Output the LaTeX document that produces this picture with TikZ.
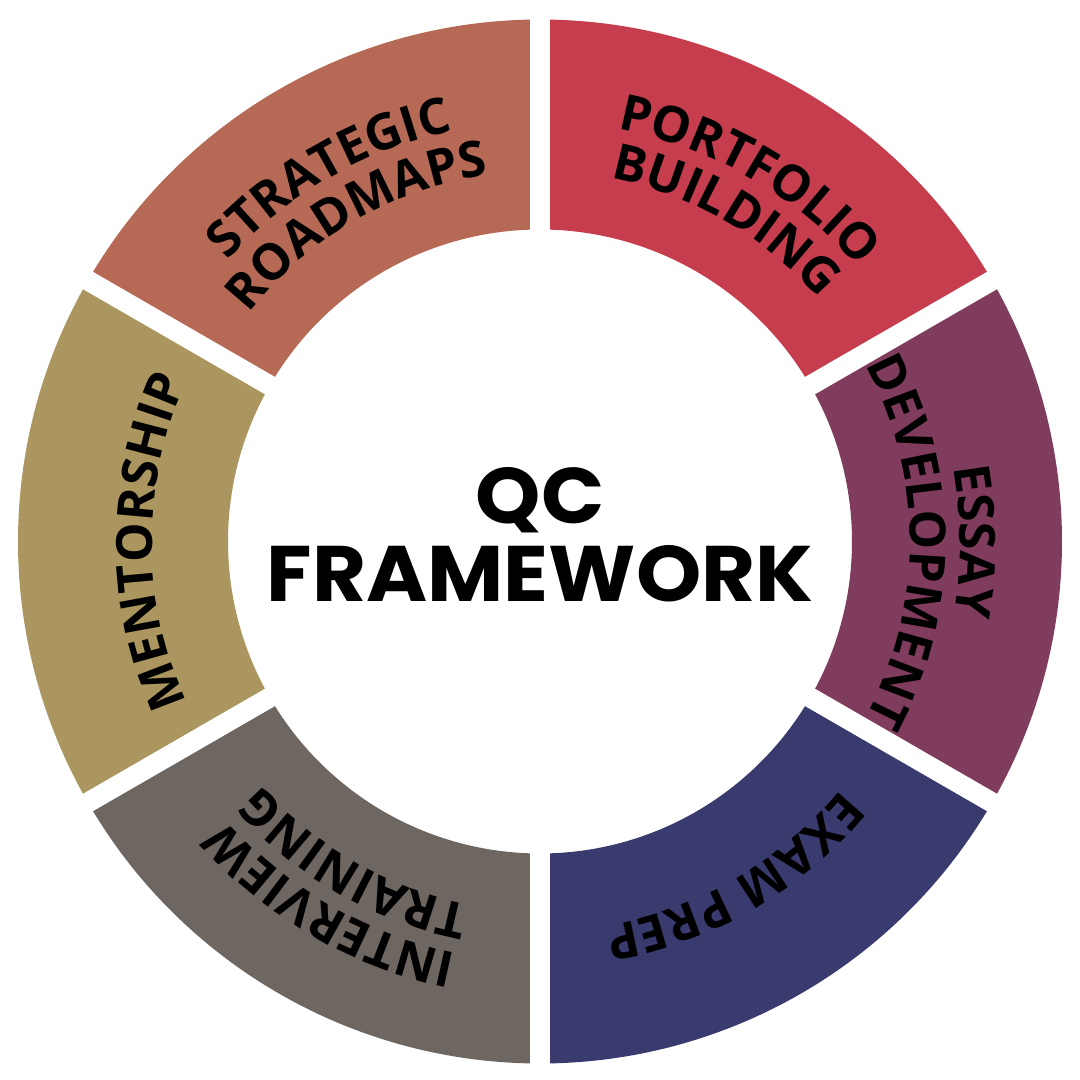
\documentclass[tikz,border=0pt]{standalone}
\usepackage{fontspec}
\usepackage{tikz}
\usetikzlibrary{decorations.text}
\newfontfamily\labelfont{Open Sans}
\newfontfamily\titlefont{Poppins}[FakeStretch=1.055]
\definecolor{roadmapbrown}{HTML}{B66A55}
\definecolor{portfoliored}{HTML}{C63D4E}
\definecolor{essayplum}{HTML}{803C5C}
\definecolor{examnavy}{HTML}{393A6E}
\definecolor{interviewgray}{HTML}{6D6661}
\definecolor{mentorkhaki}{HTML}{AA965E}
\newcommand{\ringpiece}[3]{\fill[#3] (#1:5.22) arc (#1:#2:5.22) -- (#2:3.12) arc (#2:#1:3.12) -- cycle;}
\newcommand{\gapline}{\draw[white, line width=0.2cm] (0,0) -- (5.6,0);}
\newcommand{\segfont}{\labelfont\bfseries\fontsize{14.2}{17}\selectfont}
\newcommand{\arclabel}[4]{\path[decorate, decoration={text along path, text align=center, text={|\segfont|#4}}] (#1:#3) arc (#1:#2:#3);}

\begin{document}
\begin{tikzpicture}
	\useasboundingbox (-5.40,-5.385) rectangle (5.40,5.415);

	\ringpiece{90}{150}{roadmapbrown}
	\ringpiece{30}{90}{portfoliored}
	\ringpiece{-30}{30}{essayplum}
	\ringpiece{-90}{-30}{examnavy}
	\ringpiece{-150}{-90}{interviewgray}
	\ringpiece{150}{210}{mentorkhaki}

	\begin{scope}[rotate = 90]
		\gapline
	\end{scope}
	\begin{scope}[rotate = 30]
		\gapline
	\end{scope}
	\begin{scope}[rotate = -30]
		\gapline
	\end{scope}
	\begin{scope}[rotate = -90]
		\gapline
	\end{scope}
	\begin{scope}[rotate = -150]
		\gapline
	\end{scope}
	\begin{scope}[rotate = 150]
		\gapline
	\end{scope}

	\arclabel{150}{90}{4.20}{STRATEGIC}
	\arclabel{150}{90}{3.70}{ROADMAPS}
	\arclabel{90}{30}{4.20}{PORTFOLIO}
	\arclabel{90}{30}{3.70}{BUILDING}
	\arclabel{30}{-30}{4.20}{ESSAY}
	\arclabel{30}{-30}{3.70}{DEVELOPMENT}
	\arclabel{-30}{-90}{3.90}{EXAM PREP}
	\arclabel{-90}{-150}{4.20}{INTERVIEW}
	\arclabel{-90}{-150}{3.70}{TRAINING}
	\arclabel{210}{150}{3.88}{MENTORSHIP}

	\node[font=\titlefont\bfseries\fontsize{22.4}{22.1}\selectfont, align=center, inner sep=0pt] (qc) at (0,0.065) {QC\\FRAMEWORK};

\end{tikzpicture}
\end{document}
